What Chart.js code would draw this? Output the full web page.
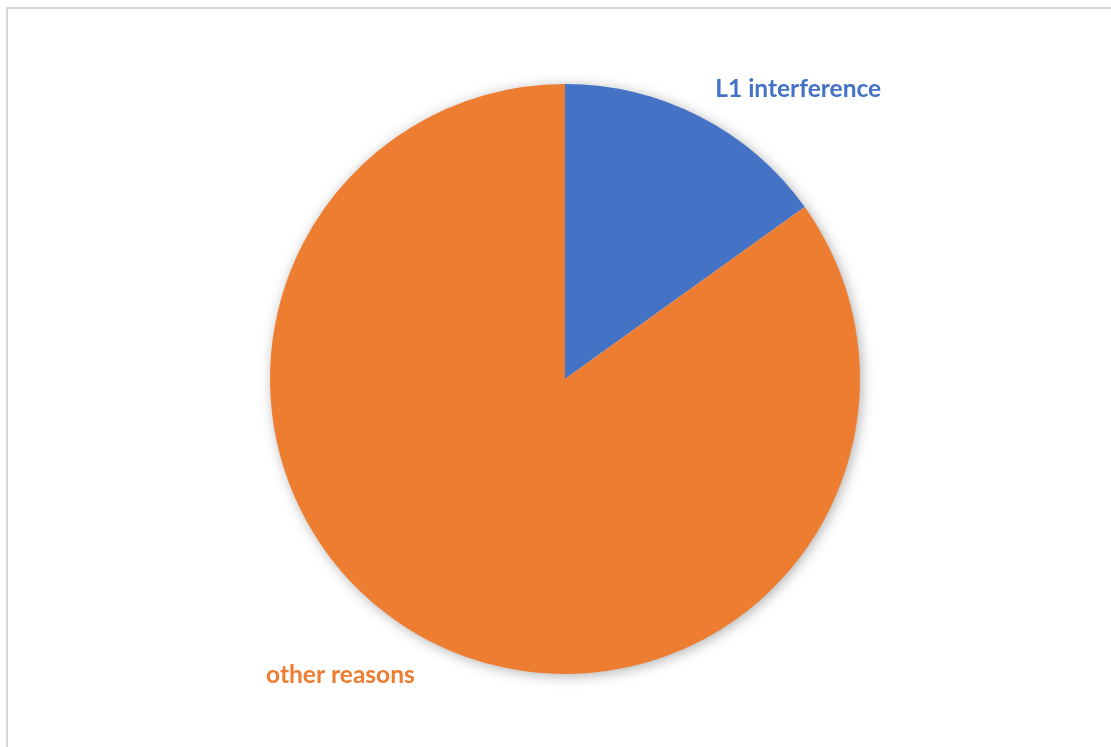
<!DOCTYPE html>
<html>
<head>
<meta charset="utf-8">
<script src="https://cdn.jsdelivr.net/npm/chart.js@4"></script>
<style>
  html, body { margin: 0; padding: 0; background: #fff; overflow: hidden; }
  #frame {
    position: absolute; left: 6px; top: 7px; right: 0; bottom: 0;
    border-left: 2px solid #d9d9d9; border-top: 2px solid #d9d9d9;
  }
  #wrap { position: absolute; left: 0; top: 0; width: 1111px; height: 747px; }
</style>
</head>
<body>
<div id="frame"></div>
<div id="wrap"><canvas id="reasons-pie"></canvas></div>
<script>
const categories = ["L1 interference", "other reasons"];
const shares = [15.1, 84.9];
const sliceColors = ["#4472C4", "#ED7D31"];

// soft shadow under the whole pie, like the office export
const pieShadow = {
    id: "pieShadow",
    beforeDatasetsDraw(chart) {
        const arc = chart.getDatasetMeta(0).data[0];
        if (!arc) return;
        const ctx = chart.ctx;
        ctx.save();
        ctx.shadowColor = "rgba(0,0,0,0.35)";
        ctx.shadowBlur = 14;
        ctx.shadowOffsetX = 2;
        ctx.shadowOffsetY = 2;
        ctx.fillStyle = "#ffffff";
        ctx.beginPath();
        ctx.arc(arc.x, arc.y, arc.outerRadius - 1, 0, Math.PI * 2);
        ctx.fill();
        ctx.restore();
    }
};

// outside labels in the slice colour
const outsideLabels = {
    id: "outsideLabels",
    afterDatasetsDraw(chart) {
        const ctx = chart.ctx;
        const meta = chart.getDatasetMeta(0);
        ctx.save();
        ctx.font = "bold 24.5px Lato";
        ctx.textBaseline = "middle";
        meta.data.forEach((arc, i) => {
            const mid = (arc.startAngle + arc.endAngle) / 2;
            const r = arc.outerRadius * 1.115;
            const x = arc.x + Math.cos(mid) * r;
            const y = arc.y + Math.sin(mid) * r + 3;
            ctx.textAlign = x > arc.x ? "left" : "right";
            ctx.fillStyle = sliceColors[i];
            ctx.fillText(categories[i], x, y);
        });
        ctx.restore();
    }
};

new Chart("reasons-pie", {
    type: "pie",
    data: {
        labels: categories,
        datasets: [{
            data: shares,
            backgroundColor: sliceColors,
            borderWidth: 0
        }]
    },
    options: {
        responsive: true,
        maintainAspectRatio: false,
        animation: false,
        layout: { padding: { left: 270, right: 251, top: 84, bottom: 73 } },
        plugins: {
            legend: { display: false },
            tooltip: { enabled: false }
        }
    },
    plugins: [pieShadow, outsideLabels]
});
</script>
</body>
</html>
